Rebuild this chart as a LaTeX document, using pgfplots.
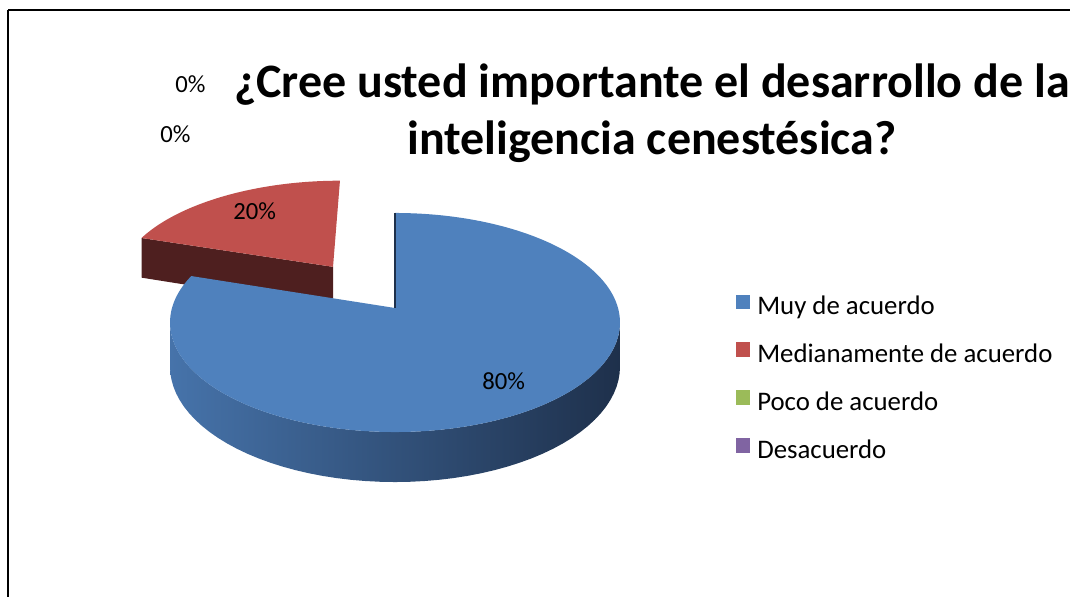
\documentclass[border=0pt]{standalone}
\usepackage{pgfplots}
\usepackage{pgfplotstable}
\usepackage{fontspec}
\setmainfont{Carlito}
\pgfplotsset{compat=1.18}
\definecolor{cBlue}{RGB}{79,129,189}
\definecolor{cRed}{RGB}{192,80,77}
\definecolor{cGreen}{RGB}{155,187,89}
\definecolor{cPurple}{RGB}{128,100,162}
\definecolor{cRedSide}{RGB}{78,31,31}
\definecolor{cBlueL}{RGB}{70,115,170}
\definecolor{cBlueM}{RGB}{48,80,120}
\definecolor{cBlueR}{RGB}{30,48,75}

\pgfplotstableread[col sep=comma]{
cat,value
Muy de acuerdo,80
Medianamente de acuerdo,20
Poco de acuerdo,0
Desacuerdo,0
}\piedata

\begin{document}%
\begin{tikzpicture}
\pgfplotstablegetelem{0}{value}\of\piedata \let\vA\pgfplotsretval
\pgfplotstablegetelem{1}{value}\of\piedata \let\vB\pgfplotsretval
\pgfmathsetmacro{\tA}{90-3.6*\vA}
\pgfmathsetmacro{\tAa}{\tA-1}
\pgfmathsetmacro{\tAlim}{\tA-0.5}
\pgfmathsetmacro{\tR}{90+3.6*\vB}
\pgfmathsetmacro{\tRmid}{(90+\tR)/2}
\pgfmathsetmacro{\eu}{0.498*cos(\tRmid)}
\pgfmathsetmacro{\ev}{0.498*sin(\tRmid)}
\useasboundingbox (0,0) rectangle (802.5pt,447pt);
\clip (0,0) rectangle (802.5pt,447pt);
\begin{axis}[
  at={(0,0)}, anchor=south west,
  scale only axis, x=0.75pt, y=0.75pt,
  xmin=0, xmax=1070, ymin=0, ymax=596,
  hide axis,
  declare function={
    PX(\u,\v)=395+223*\u/(1+0.1324*\v);
    PY(\u,\v,\z)=288+(107.6*\v-\z)/(1+0.1324*\v);
    TB(\s)=-172.4+164.8*min(1,\s/100,3-\s/100);
    ZB(\s)=43.4*min(1,max(0,\s/100-1));
  },
  legend image code/.code={\fill[#1,draw=none] (0pt,-0.5pt) rectangle (10.5pt,10.5pt);},
  legend cell align=left,
  legend style={draw=none, fill=none, at={(axis cs:736,301.7)}, anchor=north west,
    font=\fontsize{20.1}{23}\selectfont, row sep=16.1pt, column sep=5.25pt, inner sep=0pt,
    nodes={inner sep=0pt, text height=14pt, text depth=4.5pt}},
]
% legend
\addlegendimage{fill=cBlue}
\addlegendentry{Muy de acuerdo}
\addlegendimage{fill=cRed}
\addlegendentry{Medianamente de acuerdo}
\addlegendimage{fill=cGreen}
\addlegendentry{Poco de acuerdo}
\addlegendimage{fill=cPurple}
\addlegendentry{Desacuerdo}

% frame
\draw[line width=1.7pt, black] (axis cs:8,586) -- (axis cs:1100,586);
\draw[line width=1.7pt, black] (axis cs:8,586) -- (axis cs:8,-20);

% red slice: cut face
\addplot[forget plot, fill=cRedSide, draw=none, samples at={0,1,2,3}, variable=\s]
  ({PX(\eu+(\s>0.5)*(\s<2.5)*cos(\tR), \ev+(\s>0.5)*(\s<2.5)*sin(\tR))},
   {PY(\eu+(\s>0.5)*(\s<2.5)*cos(\tR), \ev+(\s>0.5)*(\s<2.5)*sin(\tR), 43.4*(\s>1.5))}) -- cycle;
% red slice: top face
\addplot[forget plot, fill=cRed, draw=none, samples at={89,90,...,\tR}, variable=\t]
  ({PX(\eu+(\t>89.5)*cos(\t), \ev+(\t>89.5)*sin(\t))},
   {PY(\eu+(\t>89.5)*cos(\t), \ev+(\t>89.5)*sin(\t), 0)}) -- cycle;
% blue slice: rim
\addplot[forget plot, draw=none, left color=cBlueL, middle color=cBlueM, right color=cBlueR,
  samples at={0,2,...,300}, variable=\s]
  ({PX(cos(TB(\s)), sin(TB(\s)))},
   {PY(cos(TB(\s)), sin(TB(\s)), ZB(\s))}) -- cycle;
% blue slice: top face
\addplot[forget plot, fill=cBlue, draw=none, samples at={\tAa,\tA,...,90}, variable=\t]
  ({PX((\t>\tAlim)*cos(\t), (\t>\tAlim)*sin(\t))},
   {PY((\t>\tAlim)*cos(\t), (\t>\tAlim)*sin(\t), 0)}) -- cycle;
% thin dark edge of the blue slice at 90 degrees
\addplot[forget plot, draw=cBlueR, line width=0.8pt, samples at={0,1}, variable=\s]
  ({PX(0,\s)}, {PY(0,\s,0)});

% data labels
\node[inner sep=0pt, anchor=base west, font=\fontsize{18.5}{22}\selectfont] at (axis cs:175,503) {0\%};
\node[inner sep=0pt, anchor=base west, font=\fontsize{18.5}{22}\selectfont] at (axis cs:160,453) {0\%};
\node[inner sep=0pt, anchor=base west, font=\fontsize{18.5}{22}\selectfont] at (axis cs:233,376) {20\%};
\node[inner sep=0pt, anchor=base west, font=\fontsize{18.5}{22}\selectfont] at (axis cs:482,206) {80\%};

% title
\node[inner sep=0pt, anchor=base, font=\fontsize{36}{42}\selectfont\bfseries] at (axis cs:652,498) {¿Cree usted importante el desarrollo de la};
\node[inner sep=0pt, anchor=base, font=\fontsize{36}{42}\selectfont\bfseries] at (axis cs:652,441) {inteligencia cenestésica?};
\end{axis}
\end{tikzpicture}%
\end{document}
